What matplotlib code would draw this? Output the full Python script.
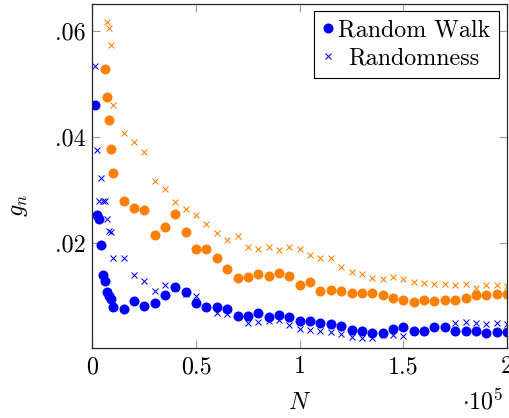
import matplotlib
matplotlib.use("Agg")
import matplotlib.pyplot as plt

plt.rcParams['font.family'] = ['cmr10', 'DejaVu Serif']
plt.rcParams['mathtext.fontset'] = 'cm'
plt.rcParams['axes.formatter.use_mathtext'] = True

# N in thousands
n_blue = [1, 2, 3, 4, 5, 6, 7, 8, 9, 10,
          15, 20, 25, 30, 35, 40, 45, 50, 55, 60,
          65, 70, 75, 80, 85, 90, 95, 100,
          105, 110, 115, 120, 125, 130, 135, 140, 145, 150,
          155, 160, 165, 170, 175, 180, 185, 190, 195, 200]
walk_blue = [.0459, .0253, .0245, .0196, .0139, .0128, .0107, .0100, .0093, .0079,
             .0074, .0090, .0080, .0086, .0102, .0116, .0107, .0086, .0079, .0078,
             .0075, .0062, .0062, .0067, .0059, .0063, .0060, .0052,
             .0053, .0048, .0046, .0043, .0036, .0033, .0030, .0029, .0037, .0040,
             .0034, .0033, .0041, .0040, .0034, .0033, .0033, .0029, .0031, .0031]
rand_blue = [.0533, .0375, .0279, .0323, .0278, .0278, .0244, .0222, .0221, .0171,
             .0171, .0140, .0127, .0108, .0120, .0114, .0104, .0100, .0078, .0068,
             .0065, .0061, .0048, .0050, .0053, .0054, .0045, .0038,
             .0035, .0033, .0032, .0028, .0023, .0021, .0020, .0025, .0025, .0024,
             .0034, .0033, .0041, .0040, .0049, .0050, .0048, .0047, .0049, .0047]

n_walk_orange = [6, 7, 8, 9, 10,
                 15, 20, 25, 30, 35, 40, 45, 50, 55, 60,
                 65, 70, 75, 80, 85, 90, 95, 100,
                 105, 110, 115, 120, 125, 130, 135, 140, 145, 150,
                 155, 160, 165, 170, 175, 180, 185, 190, 195, 200]
walk_orange = [.0527, .0475, .0432, .0377, .0332,
               .0279, .0266, .0262, .0215, .0229, .0255, .0221, .0188, .0188, .0171,
               .0151, .0133, .0136, .0141, .0138, .0142, .0137, .0121,
               .0125, .0109, .0111, .0109, .0106, .0106, .0106, .0101, .0095, .0092,
               .0088, .0091, .0090, .0091, .0092, .0096, .0101, .0102, .0104, .0104]
n_rand_orange = [7, 8, 9, 10,
                 15, 20, 25, 30, 35, 40, 45, 50, 55, 60,
                 65, 70, 75, 80, 85, 90, 95, 100,
                 105, 110, 115, 120, 125, 130, 135, 140, 145, 150,
                 155, 160, 165, 170, 175, 180, 185, 190, 195, 200]
rand_orange = [.0616, .0605, .0573, .0460,
               .0408, .0391, .0371, .0317, .0302, .0277, .0264, .0253, .0235, .0218,
               .0206, .0212, .0192, .0189, .0191, .0186, .0192, .0189,
               .0177, .0172, .0172, .0155, .0145, .0141, .0133, .0131, .0136, .0131,
               .0125, .0124, .0123, .0122, .0120, .0123, .0114, .0120, .0120, .0118]

x_ticks = [0, 50000, 100000, 150000, 200000]
x_labels = ['0', '0.5', '1', '1.5', '2']
y_ticks = [0.02, 0.04, 0.06]
y_labels = ['.02', '.04', '.06']

BLUE = '#0000ff'
ORANGE = '#ff8000'
FS = 17.3
W, H = 510, 418


def main():
    fig = plt.figure(figsize=(W / 100, H / 100), dpi=100)
    ax = fig.add_axes([92.5 / W, 70 / H, 414.5 / W, 343.7 / H])

    k = lambda ns: [n * 1000 for n in ns]
    h1, = ax.plot(k(n_blue), walk_blue, ls='none', marker='o', ms=7.2,
                  color=BLUE, mec='none', label='Random Walk')
    h2, = ax.plot(k(n_blue), rand_blue, ls='none', marker='x', ms=4.6,
                  mew=0.75, color=BLUE, label='Randomness')
    ax.plot(k(n_walk_orange), walk_orange, ls='none', marker='o', ms=7.2,
            color=ORANGE, mec='none')
    ax.plot(k(n_rand_orange), rand_orange, ls='none', marker='x', ms=4.6,
            mew=0.75, color=ORANGE)

    ax.set_xlim(0, 200000)
    ax.set_ylim(0.00013, 0.065)
    ax.set_xticks(x_ticks)
    ax.set_xticklabels(x_labels)
    ax.set_yticks(y_ticks)
    ax.set_yticklabels(y_labels)
    ax.tick_params(direction='in', length=6, width=0.8, color='0.6',
                   top=True, right=True, labelsize=FS)
    ax.tick_params(axis='x', pad=6)
    ax.tick_params(axis='y', pad=5)
    for s in ax.spines.values():
        s.set_color('0.15')
        s.set_linewidth(0.9)

    # axis labels placed in figure pixels
    fig.text(300 / W, 9 / H, '$N$', ha='center', va='baseline', fontsize=FS)
    fig.text(503 / W, 9 / H, r'$\cdot10^5$', ha='right', va='baseline',
             fontsize=FS)
    ax.set_ylabel('$g_n$', fontsize=FS)
    ax.yaxis.set_label_coords(-0.151, 0.416)

    leg = ax.legend(handles=[h1, h2], loc='upper right',
                    bbox_to_anchor=(0.98, 0.98), borderaxespad=0,
                    fontsize=FS, fancybox=False, framealpha=1,
                    edgecolor='black', handlelength=0.5, handletextpad=0.15,
                    borderpad=0.35, labelspacing=0.25)
    leg.get_frame().set_linewidth(0.8)

    # pgfplots centers the legend texts in their column
    fig.canvas.draw()
    t = leg.get_texts()
    w0 = t[0].get_window_extent().width
    w1 = t[1].get_window_extent().width
    t[1].set_x((w0 - w1) / 2)

    fig.savefig('out.png', dpi=100)


if __name__ == "__main__":
    main()
